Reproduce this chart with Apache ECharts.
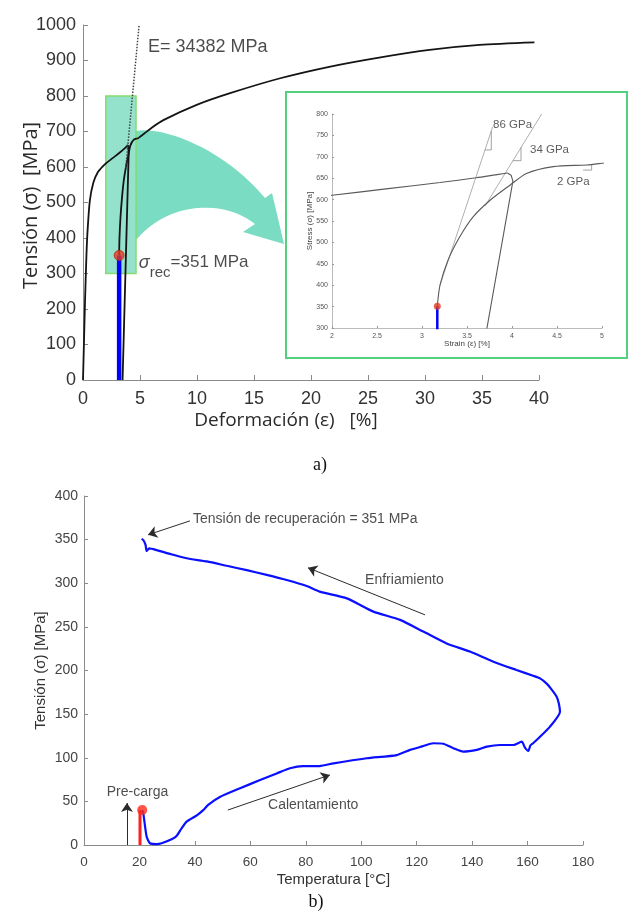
<!DOCTYPE html>
<html>
<head>
<meta charset="utf-8">
<script src="https://cdn.jsdelivr.net/npm/echarts/dist/echarts.min.js"></script>
<style>
  html, body { margin: 0; padding: 0; background: #ffffff; }
  #c { width: 628px; height: 916px; }
</style>
</head>
<body>
<div id="c"></div>
<script>
// ---- a) tensile curve: loading branch (strain %, stress MPa)
const strainLoad = [0, 0.08, 0.18, 0.3, 0.4, 0.6, 0.9, 1.3, 1.8, 2.0, 2.6, 3.2, 3.6, 3.85, 3.95];
const stressLoad = [0, 100, 225, 350, 420, 505, 555, 585, 604, 610, 625, 640, 651, 659, 662];
// elastic unloading branch
const strainUnload = [3.95, 3.99, 4.01, 3.47];
const stressUnload = [662, 657, 643, 0];
// reloading from the recovered state
const strainRec = [3.17, 3.2, 3.29, 3.42, 3.57, 3.76, 3.98, 4.16, 4.46, 4.83, 5.0, 6.0, 7.05, 9.97, 12.9, 17.3, 21.7, 26.1, 30.4, 34.8, 39.6];
const stressRec = [351, 400, 459, 513, 560, 599, 634, 661, 677, 681, 685, 710, 732, 775, 808, 850, 883, 909, 930, 944, 951];
// recovery stress point
const recStrain = 3.17;
const recStress = 351;
// secant modulus line (MPa), starting point on the reloading curve
const eModulus = 34382;
const eStart = [3.75, 598];
// zoom window shown in the inset
const zoomStrain = [2, 4.65];
const zoomStress = [300, 800];
// inset slope guides
const line86Strain = [3.2, 3.785];
const line86Stress = [400, 770];
const tri86Strain = [3.70, 3.77, 3.77];
const tri86Stress = [716, 716, 760];
const line34Strain = [3.7, 4.33];
const line34Stress = [585, 800];
const tri34Strain = [4.01, 4.1, 4.1];
const tri34Stress = [691, 691, 722];
const tri2Strain = [4.79, 4.885, 4.885];
const tri2Stress = [669, 669, 681];

// ---- b) recovery stress vs temperature (°C, MPa)
const tempCycle = [21.0, 21.4, 22.6, 23.8, 26.2, 28.0, 31.6, 33.4, 35.2, 37.0, 40.7, 43.0, 44.8, 49.0, 56.3, 63.5, 69.5, 74.3, 79.0, 85.0,
  90.0, 102.0, 112.8, 117.6, 122.0, 126.0, 129.6, 133.2, 136.8, 141.7, 145.3, 150.0, 154.9, 157.9, 159.0, 160.3, 161.0, 162.0, 164.5, 168.1,
  171.7, 171.3, 170.5, 168.5, 166.9, 164.5, 162.0, 156.0, 147.7, 139.2, 130.8, 122.4, 114.0, 104.4, 94.8, 85.0, 80.3, 73.1, 65.9, 58.7,
  51.5, 44.3, 37.0, 31.0, 26.2, 23.5, 22.6, 22.2, 21.5, 20.8];
const stressCycle = [40, 36, 9.5, 2, 1, 2, 6.5, 10.3, 19, 26.7, 34, 40, 46, 55, 65, 74.5, 82, 88, 90.5, 90.5,
  93.6, 99.4, 103, 109, 113, 116.6, 116, 111, 107, 109, 112.7, 114.6, 114.6, 118.4, 112, 107.8, 114, 116.6, 124, 135.6,
  152.8, 162, 170, 179, 185, 191, 194, 200.6, 210, 221.7, 231, 244.6, 258, 267.5, 282.7, 290.4, 296.8, 303.7, 309.6, 315,
  320, 325, 328.6, 333.6, 338, 340, 337, 344, 349, 351];
const preloadTemp = 20.2;
const preloadStress = 40;
const preloadDot = [21.0, 40];

const pairs = (xs, ys) => xs.map((x, i) => [x, ys[i]]);
const SANS = '"Liberation Sans", Arial, sans-serif';
const plain = v => String(v);

// secant line end at the top of the axis
const eEnd = [eStart[0] + (1000 - eStart[1]) / (eModulus / 100), 1000];

function cubic(p0, p1, p2, p3, n) {
  const out = [];
  for (let i = 0; i <= n; i++) {
    const t = i / n, u = 1 - t;
    out.push([
      u*u*u*p0[0] + 3*u*u*t*p1[0] + 3*u*t*t*p2[0] + t*t*t*p3[0],
      u*u*u*p0[1] + 3*u*u*t*p1[1] + 3*u*t*t*p2[1] + t*t*t*p3[1]
    ]);
  }
  return out;
}
// curved callout arrow from the zoom window to the inset
const calloutPts = [].concat(
  cubic([136, 131], [165, 126], [225, 150], [265, 198], 24),
  [[272, 193], [284, 244], [243, 232], [255, 224]],
  cubic([255, 224], [225, 200], [170, 200], [136, 240], 24)
);

function axisCommon(o) {
  return Object.assign({
    type: 'value',
    nameLocation: 'middle',
    nameMoveOverlap: false,
    axisLine: { show: true, onZero: false, lineStyle: { color: '#8a8a8a', width: 1 } },
    axisTick: { show: true, inside: true, length: 5, lineStyle: { color: '#8a8a8a' } },
    splitLine: { show: false }
  }, o);
}

function lineSeries(xi, data, color, width, extra) {
  return Object.assign({
    type: 'line', xAxisIndex: xi, yAxisIndex: xi, data: data,
    showSymbol: false, symbol: 'none', silent: true,
    lineStyle: { color: color, width: width }, z: 3
  }, extra || {});
}

function textSeries(xi, x, y, text, style, z) {
  return {
    type: 'scatter', xAxisIndex: xi, yAxisIndex: xi, silent: true, z: z || 6,
    symbolSize: 0, data: [[x, y]],
    label: Object.assign({ show: true, position: 'right', distance: 0, formatter: text, color: '#222', fontFamily: SANS }, style)
  };
}

function arrowSeries(from, to) {
  return {
    type: 'line', xAxisIndex: 2, yAxisIndex: 2, data: [], silent: true, z: 4,
    markLine: {
      silent: true, animation: false, symbol: ['none', 'arrow'], symbolSize: 9,
      label: { show: false },
      lineStyle: { color: '#2a2a2a', width: 1, type: 'solid' },
      emphasis: { disabled: true },
      data: [[{ coord: from }, { coord: to }]]
    }
  };
}

const chart = echarts.init(document.getElementById('c'));
chart.setOption({
  animation: false,
  backgroundColor: '#ffffff',
  grid: [
    { left: 83, top: 25, width: 456, height: 355, containLabel: false, outerBoundsMode: 'none' },
    { left: 332, top: 114, width: 270, height: 214, containLabel: false, outerBoundsMode: 'none' },
    { left: 84, top: 496, width: 499, height: 349, containLabel: false, outerBoundsMode: 'none' }
  ],
  xAxis: [
    axisCommon({ gridIndex: 0, min: 0, max: 40, interval: 5,
      name: 'Deformación (ε)   [%]', nameGap: 31,
      nameTextStyle: { fontSize: 19, color: '#2a2a2a', fontFamily: '"Open Sans", sans-serif', padding: [0, 50, 0, 0] },
      axisLabel: { fontSize: 18, color: '#333', margin: 10, fontFamily: SANS, formatter: plain } }),
    axisCommon({ gridIndex: 1, min: 2, max: 5, interval: 0.5, z: 5,
      name: 'Strain (ε) [%]', nameGap: 12,
      nameTextStyle: { fontSize: 8, color: '#444', fontFamily: SANS },
      axisTick: { show: true, inside: true, length: 2, lineStyle: { color: '#999' } },
      axisLine: { show: true, onZero: false, lineStyle: { color: '#aaa', width: 0.8 } },
      axisLabel: { fontSize: 7, color: '#555', margin: 5, fontFamily: SANS, formatter: plain } }),
    axisCommon({ gridIndex: 2, min: 0, max: 180, interval: 20,
      name: 'Temperatura [°C]', nameGap: 27,
      nameTextStyle: { fontSize: 15, color: '#333', fontFamily: SANS },
      axisTick: { show: true, inside: true, length: 4, lineStyle: { color: '#8a8a8a' } },
      axisLabel: { fontSize: 13.5, color: '#444', margin: 10, fontFamily: SANS, formatter: plain } })
  ],
  yAxis: [
    axisCommon({ gridIndex: 0, min: 0, max: 1000, interval: 100,
      name: 'Tensión (σ)  [MPa]', nameGap: 42,
      nameTextStyle: { fontSize: 20, color: '#2a2a2a', fontFamily: '"Open Sans", sans-serif', padding: [0, 6, 0, 0] },
      axisLabel: { fontSize: 18, color: '#333', margin: 7, fontFamily: SANS, formatter: plain } }),
    axisCommon({ gridIndex: 1, min: 300, max: 800, interval: 50, z: 5,
      name: 'Stress (σ) [MPa]', nameGap: 18,
      nameTextStyle: { fontSize: 8, color: '#444', fontFamily: SANS },
      axisTick: { show: true, inside: true, length: 2, lineStyle: { color: '#999' } },
      axisLine: { show: true, onZero: false, lineStyle: { color: '#aaa', width: 0.8 } },
      axisLabel: { fontSize: 7, color: '#555', margin: 4, fontFamily: SANS, formatter: plain } }),
    axisCommon({ gridIndex: 2, min: 0, max: 400, interval: 50,
      name: 'Tensión (σ) [MPa]', nameGap: 36,
      nameTextStyle: { fontSize: 15, color: '#333', fontFamily: SANS },
      axisTick: { show: true, inside: true, length: 4, lineStyle: { color: '#8a8a8a' } },
      axisLabel: { fontSize: 14, color: '#444', margin: 6, fontFamily: SANS, formatter: plain } })
  ],
  graphic: { elements: [
    { type: 'polygon', z: 1, silent: true, shape: { points: calloutPts },
      style: { fill: '#7adcc2', stroke: null } },
    { type: 'rect', z: 1, silent: true, shape: { x: 286, y: 92, width: 341, height: 266 },
      style: { fill: '#ffffff', stroke: '#55d07e', lineWidth: 2 } },
    { type: 'text', z: 1, silent: true, x: 320, y: 465,
      style: { text: 'a)', font: '18px "Liberation Serif", serif', fill: '#111', textAlign: 'center', textVerticalAlign: 'middle', verticalAlign: 'middle' } },
    { type: 'text', z: 1, silent: true, x: 316, y: 902,
      style: { text: 'b)', font: '18px "Liberation Serif", serif', fill: '#111', textAlign: 'center', textVerticalAlign: 'middle', verticalAlign: 'middle' } }
  ] },
  series: [
    // ---- a) main axes
    { type: 'line', xAxisIndex: 0, yAxisIndex: 0, data: [], silent: true, z: 1,
      markArea: { silent: true,
        itemStyle: { color: 'rgba(70,205,165,0.58)', borderColor: '#86dc6e', borderWidth: 1.5 },
        data: [[{ xAxis: zoomStrain[0], yAxis: zoomStress[0] }, { xAxis: zoomStrain[1], yAxis: zoomStress[1] }]] } },
    lineSeries(0, pairs(strainLoad, stressLoad), '#141414', 1.8, { smooth: 0.25 }),
    lineSeries(0, pairs(strainUnload, stressUnload), '#141414', 1.8),
    lineSeries(0, pairs(strainRec, stressRec), '#141414', 1.8, { smooth: 0.25 }),
    lineSeries(0, [eStart, eEnd], '#444', 1.5, { lineStyle: { color: '#444', width: 1.5, type: 'dotted' } }),
    lineSeries(0, [[recStrain, 0], [recStrain, recStress]], '#0000ff', 4.5, { z: 4 }),
    { type: 'scatter', xAxisIndex: 0, yAxisIndex: 0, silent: true, z: 5, symbolSize: 10,
      data: [[recStrain, recStress]], itemStyle: { color: '#e5391f', borderColor: '#b52a18', borderWidth: 1 } },
    textSeries(0, 5.7, 939, 'E= 34382 MPa', { fontSize: 18, color: '#1e1e1e' }),
    textSeries(0, 4.9, 326, '{s|σ}{sub|rec}{n|=351 MPa}', {
      rich: {
        s: { fontSize: 18, fontStyle: 'italic', color: '#1e1e1e', lineHeight: 20, verticalAlign: 'top', fontFamily: SANS },
        sub: { fontSize: 15, color: '#1e1e1e', lineHeight: 20, padding: [11, 0, 0, 0], verticalAlign: 'top', fontFamily: SANS },
        n: { fontSize: 17, color: '#1e1e1e', lineHeight: 20, verticalAlign: 'top', fontFamily: SANS }
      } }),

    // ---- a) inset
    lineSeries(1, pairs(line86Strain, line86Stress), '#9a9a9a', 0.8, { z: 5 }),
    lineSeries(1, pairs(tri86Strain, tri86Stress), '#8a8a8a', 0.8, { z: 5 }),
    lineSeries(1, pairs(line34Strain, line34Stress), '#9a9a9a', 0.8, { z: 5 }),
    lineSeries(1, pairs(tri34Strain, tri34Stress), '#8a8a8a', 0.8, { z: 5 }),
    lineSeries(1, pairs(tri2Strain, tri2Stress), '#8a8a8a', 0.8, { z: 5 }),
    lineSeries(1, pairs(strainLoad, stressLoad), '#5a5a5a', 1.1, { smooth: 0.25, z: 5 }),
    lineSeries(1, pairs(strainUnload, stressUnload), '#5a5a5a', 1.1, { z: 5 }),
    lineSeries(1, pairs(strainRec, stressRec), '#5a5a5a', 1.1, { smooth: 0.25, z: 5 }),
    lineSeries(1, [[recStrain, 0], [recStrain, recStress]], '#0000ff', 2.5, { z: 6 }),
    { type: 'scatter', xAxisIndex: 1, yAxisIndex: 1, silent: true, z: 7, symbolSize: 7,
      data: [[recStrain, recStress]], itemStyle: { color: '#e5391f' } },
    textSeries(1, 3.79, 774, '86 GPa', { fontSize: 11.5, color: '#333' }),
    textSeries(1, 4.2, 716, '34 GPa', { fontSize: 11.5, color: '#333' }),
    textSeries(1, 4.5, 641, '2 GPa', { fontSize: 11.5, color: '#333' }),

    // ---- b) thermal recovery cycle
    lineSeries(2, pairs(tempCycle, stressCycle), '#0a10ff', 2.2, { z: 3, smooth: 0.2 }),
    lineSeries(2, [[preloadTemp, 0], [preloadTemp, preloadStress]], '#ff1f1f', 3, { z: 4 }),
    { type: 'scatter', xAxisIndex: 2, yAxisIndex: 2, silent: true, z: 5, symbolSize: 10,
      data: [preloadDot], itemStyle: { color: '#ff2a1a' } },
    arrowSeries([15.5, 0], [15.5, 48]),
    arrowSeries([38.2, 371.5], [23.1, 355.5]),
    arrowSeries([123, 263.8], [80.8, 317.7]),
    arrowSeries([51.9, 40.1], [88.7, 80.3]),
    textSeries(2, 39.3, 374, 'Tensión de recuperación = 351 MPa', { fontSize: 14 }),
    textSeries(2, 101.4, 304, 'Enfriamiento', { fontSize: 14 }),
    textSeries(2, 66.4, 45.9, 'Calentamiento', { fontSize: 14 }),
    textSeries(2, 8.2, 60.4, 'Pre-carga', { fontSize: 14 })
  ]
});
</script>
</body>
</html>
